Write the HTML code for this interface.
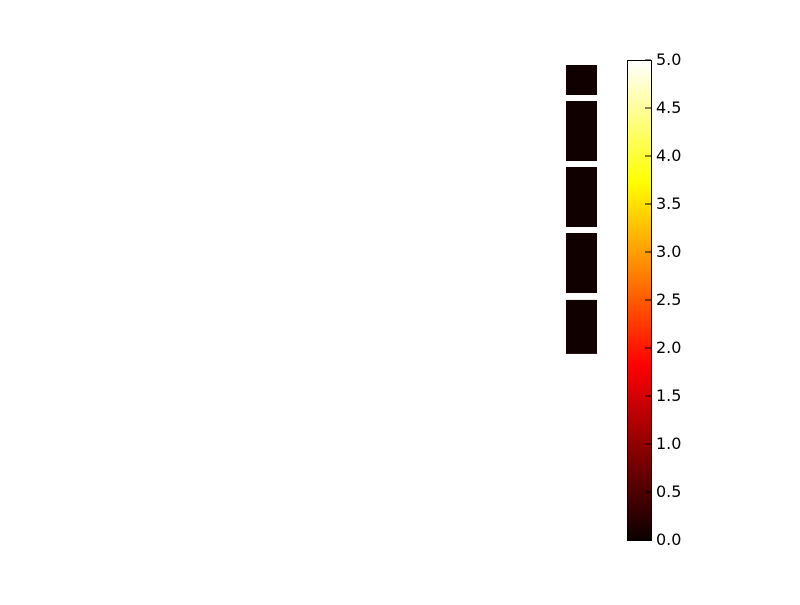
<!DOCTYPE html>
<html><head><meta charset="utf-8"><style>
body{margin:0;background:#fff;}
svg text{font-family:"DejaVu Sans","Liberation Sans",sans-serif;font-size:16px;fill:#000;}
</style></head><body>
<svg id="chart" width="800" height="600">
<defs>
<linearGradient id="hot" x1="0" y1="1" x2="0" y2="0">
<stop offset="0" stop-color="#0b0000"/>
<stop offset="0.365" stop-color="#ff0000"/>
<stop offset="0.746" stop-color="#ffff00"/>
<stop offset="1" stop-color="#ffffff"/>
</linearGradient>
</defs>
<g id="cells"></g>
<rect x="627.5" y="60.5" width="24" height="480" fill="url(#hot)" stroke="#000" stroke-width="1"/>
<g id="cbticks"></g>
</svg>
<script>
const rowStarts = [0, 1.2, 3.4, 5.6, 7.83];
const rowEnds = [1.0, 3.2, 5.4, 7.6, 9.63];
const values = [0.05, 0.05, 0.05, 0.05, 0.05];
const tickLabels = ["0.0","0.5","1.0","1.5","2.0","2.5","3.0","3.5","4.0","4.5","5.0"];
const tickValues = [0,0.5,1,1.5,2,2.5,3,3.5,4,4.5,5];

const yScale = v => 65 + v * 30;
const cbScale = v => 540 - v / 5 * 480;
function hot(v){
  const t = v/5;
  const r = Math.min(1, 0.0416 + t/0.365*(1-0.0416));
  const g = Math.max(0, Math.min(1,(t-0.365)/(0.746-0.365)));
  const b = Math.max(0, Math.min(1,(t-0.746)/(1-0.746)));
  return `rgb(${Math.round(r*255)},${Math.round(g*255)},${Math.round(b*255)})`;
}
const ns = "http://www.w3.org/2000/svg";
const cells = document.getElementById('cells');
values.forEach((v,i)=>{
  const r = document.createElementNS(ns,'rect');
  r.setAttribute('x',566);
  r.setAttribute('width',31);
  r.setAttribute('y',yScale(rowStarts[i]));
  r.setAttribute('height',yScale(rowEnds[i])-yScale(rowStarts[i]));
  r.setAttribute('fill',hot(v));
  
  
  cells.appendChild(r);
});
const tg = document.getElementById('cbticks');
tickValues.forEach((v,i)=>{
  const y = cbScale(v);
  const l = document.createElementNS(ns,'line');
  l.setAttribute('x1',645);l.setAttribute('x2',651);
  l.setAttribute('y1',y);l.setAttribute('y2',y);
  l.setAttribute('stroke','#000');
  
  
  tg.appendChild(l);
  const t = document.createElementNS(ns,'text');
  t.setAttribute('x',656);t.setAttribute('y',y+5);
  t.textContent = tickLabels[i];
  
  
  tg.appendChild(t);
});
</script>
</body></html>
